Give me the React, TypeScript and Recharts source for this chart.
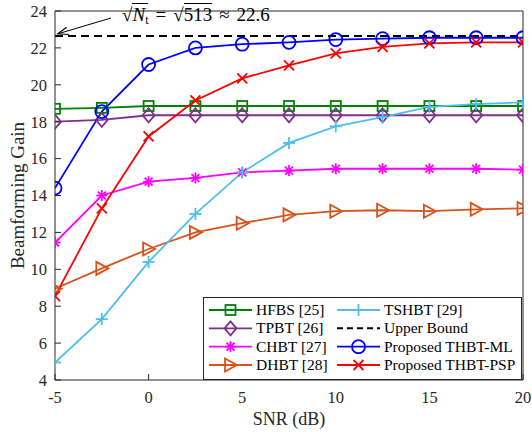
import React from 'react';
import { LineChart, Line, XAxis, YAxis, Legend } from 'recharts';

// SNR grid (dB)
const snr = [-5, -2.5, 0, 2.5, 5, 7.5, 10, 12.5, 15, 17.5, 20];

// beamforming gain per scheme
const hfbs = [18.7, 18.75, 18.85, 18.85, 18.85, 18.85, 18.85, 18.85, 18.85, 18.85, 18.85];
const tpbt = [18.0, 18.1, 18.35, 18.35, 18.35, 18.35, 18.35, 18.35, 18.35, 18.35, 18.35];
const chbt = [11.45, 14.0, 14.75, 14.95, 15.25, 15.35, 15.45, 15.45, 15.45, 15.45, 15.4];
const dhbt = [8.95, 10.05, 11.1, 12.0, 12.5, 12.95, 13.15, 13.2, 13.15, 13.25, 13.3];
const tshbt = [4.95, 7.3, 10.4, 13.0, 15.25, 16.85, 17.75, 18.25, 18.8, 18.95, 19.05];
const thbtMl = [14.4, 18.55, 21.1, 22.0, 22.2, 22.3, 22.45, 22.5, 22.55, 22.55, 22.55];
const thbtPsp = [8.55, 13.3, 17.2, 19.15, 20.35, 21.05, 21.7, 22.05, 22.25, 22.3, 22.3];
const upperBound = 22.65; // sqrt(513)

const xTicks = [-5, 0, 5, 10, 15, 20];
const yTicks = [4, 6, 8, 10, 12, 14, 16, 18, 20, 22, 24];

const data = snr.map((s, i) => ({
  snr: s,
  hfbs: hfbs[i],
  tpbt: tpbt[i],
  chbt: chbt[i],
  dhbt: dhbt[i],
  tshbt: tshbt[i],
  upper: upperBound,
  ml: thbtMl[i],
  psp: thbtPsp[i],
}));

type Shape = 'square' | 'diamond' | 'asterisk' | 'triangle' | 'plus' | 'circle' | 'cross' | 'none';

const series: { key: string; name: string; color: string; shape: Shape; dashed?: boolean }[] = [
  { key: 'hfbs', name: 'HFBS [25]', color: '#008000', shape: 'square' },
  { key: 'tpbt', name: 'TPBT [26]', color: '#7E2F8E', shape: 'diamond' },
  { key: 'chbt', name: 'CHBT [27]', color: '#FF00FF', shape: 'asterisk' },
  { key: 'dhbt', name: 'DHBT [28]', color: '#D95319', shape: 'triangle' },
  { key: 'tshbt', name: 'TSHBT [29]', color: '#4DBEEE', shape: 'plus' },
  { key: 'upper', name: 'Upper Bound', color: '#000000', shape: 'none', dashed: true },
  { key: 'ml', name: 'Proposed THBT-ML', color: '#0000FF', shape: 'circle' },
  { key: 'psp', name: 'Proposed THBT-PSP', color: '#FF0000', shape: 'cross' },
];

const FONT = '"Liberation Serif", "Times New Roman", Times, serif';
const AXIS = '#262626';
const W = 532;
const H = 432;
const PLOT = { left: 55, right: 522, top: 12, bottom: 380 };

const xPix = (v: number) => PLOT.left + ((v + 5) / 25) * (PLOT.right - PLOT.left);
const yPix = (v: number) => PLOT.bottom - ((v - 4) / 20) * (PLOT.bottom - PLOT.top);

function Marker({ shape, cx, cy, color }: { shape: Shape; cx: number; cy: number; color: string }) {
  const sw = 1.8;
  const common = { fill: 'none', stroke: color, strokeWidth: sw };
  switch (shape) {
    case 'square':
      return <rect x={cx - 5} y={cy - 5} width={10} height={10} {...common} />;
    case 'diamond':
      return <polygon points={`${cx},${cy - 7} ${cx + 6},${cy} ${cx},${cy + 7} ${cx - 6},${cy}`} {...common} />;
    case 'asterisk': {
      const r = 5.5;
      const d = r * 0.72;
      return (
        <g {...common}>
          <line x1={cx - r} y1={cy} x2={cx + r} y2={cy} />
          <line x1={cx} y1={cy - r} x2={cx} y2={cy + r} />
          <line x1={cx - d} y1={cy - d} x2={cx + d} y2={cy + d} />
          <line x1={cx - d} y1={cy + d} x2={cx + d} y2={cy - d} />
        </g>
      );
    }
    case 'triangle':
      return <polygon points={`${cx + 6.5},${cy} ${cx - 5.5},${cy - 6.5} ${cx - 5.5},${cy + 6.5}`} {...common} />;
    case 'plus': {
      const r = 6;
      return (
        <g {...common}>
          <line x1={cx - r} y1={cy} x2={cx + r} y2={cy} />
          <line x1={cx} y1={cy - r} x2={cx} y2={cy + r} />
        </g>
      );
    }
    case 'circle':
      return <circle cx={cx} cy={cy} r={6.5} {...common} />;
    case 'cross': {
      const r = 5;
      return (
        <g {...common}>
          <line x1={cx - r} y1={cy - r} x2={cx + r} y2={cy + r} />
          <line x1={cx - r} y1={cy + r} x2={cx + r} y2={cy - r} />
        </g>
      );
    }
    default:
      return null;
  }
}

const renderLegend = () => {
  const rows = [13, 31.3, 49.7, 68];
  return (
    <svg width={320} height={83} style={{ display: 'block', fontFamily: FONT }}>
      <rect x={0.5} y={0.5} width={318} height={82} fill="#fff" stroke={AXIS} strokeWidth={1} />
      {series.map((s, i) => {
        const col = i < 4 ? 0 : 1;
        const y = rows[i % 4];
        const x0 = col === 0 ? 6 : 134;
        const x1 = x0 + 43;
        return (
          <g key={s.key}>
            <line
              x1={x0}
              y1={y}
              x2={x1}
              y2={y}
              stroke={s.color}
              strokeWidth={s.dashed ? 2 : 1.8}
              strokeDasharray={s.dashed ? '6 4' : undefined}
            />
            <Marker shape={s.shape} cx={(x0 + x1) / 2} cy={y} color={s.color} />
            <text x={x1 + 4} y={y + 5} style={{ fontFamily: FONT, fontSize: 15.5 }} fill="#000">
              {s.name}
            </text>
          </g>
        );
      })}
    </svg>
  );
};

export default function App() {
  const tip = { x: xPix(-4.85), y: yPix(upperBound) - 3 };
  const tail = { x: 111, y: 18 };
  const ang = Math.atan2(tail.y - tip.y, tail.x - tip.x);
  const head = (a: number) => ({ x: tip.x + 11 * Math.cos(ang + a), y: tip.y + 11 * Math.sin(ang + a) });
  const h1 = head(0.35);
  const h2 = head(-0.35);
  const tickStyle = { fill: AXIS, fontSize: 16.5, fontFamily: FONT };

  return (
    <div style={{ position: 'absolute', left: 0, top: 0, width: W, height: H, background: '#fff', fontFamily: FONT }}>
      <LineChart
        width={W}
        height={H}
        data={data}
        style={{ fontFamily: FONT }}
        margin={{ top: PLOT.top - 1, right: W - PLOT.right - 1, bottom: 0, left: 0 }}
      >
        <XAxis
          dataKey="snr"
          type="number"
          domain={[-5, 20]}
          ticks={xTicks}
          interval={0}
          allowDataOverflow
          height={H - PLOT.bottom}
          tickSize={-6}
          tickMargin={17}
          axisLine={{ stroke: AXIS }}
          tickLine={{ stroke: AXIS }}
          tick={tickStyle}
          label={{ value: 'SNR (dB)', position: 'insideBottom', offset: 7, fill: AXIS, fontSize: 18, fontFamily: FONT }}
        />
        <XAxis
          xAxisId="top"
          orientation="top"
          dataKey="snr"
          type="number"
          domain={[-5, 20]}
          ticks={xTicks}
          interval={0}
          allowDataOverflow
          height={1}
          mirror
          tickSize={6}
          tick={false}
          axisLine={{ stroke: AXIS }}
          tickLine={{ stroke: AXIS }}
        />
        <YAxis
          type="number"
          domain={[4, 24]}
          ticks={yTicks}
          interval={0}
          allowDataOverflow
          width={PLOT.left}
          tickSize={-6}
          tickMargin={14}
          axisLine={{ stroke: AXIS }}
          tickLine={{ stroke: AXIS }}
          tick={tickStyle}
          label={{
            value: 'Beamforming Gain',
            angle: -90,
            position: 'insideLeft',
            offset: 17,
            fill: AXIS,
            fontSize: 19,
            fontFamily: FONT,
            style: { textAnchor: 'middle', fontFamily: FONT },
          }}
        />
        <YAxis
          yAxisId="right"
          orientation="right"
          type="number"
          domain={[4, 24]}
          ticks={yTicks}
          interval={0}
          allowDataOverflow
          width={1}
          mirror
          tickSize={6}
          tick={false}
          axisLine={{ stroke: AXIS }}
          tickLine={{ stroke: AXIS }}
        />
        {series.map((s) => (
          <Line
            key={s.key}
            dataKey={s.key}
            name={s.name}
            stroke={s.color}
            strokeWidth={s.dashed ? 2 : 1.8}
            strokeDasharray={s.dashed ? '8 5' : undefined}
            type="linear"
            isAnimationActive={false}
            dot={
              s.shape === 'none'
                ? false
                : (p: any) => <Marker key={`${s.key}-${p.index}`} shape={s.shape} cx={p.cx} cy={p.cy} color={s.color} />
            }
            activeDot={false}
          />
        ))}
        <Legend
          layout="horizontal"
          verticalAlign="middle"
          align="center"
          wrapperStyle={{ left: 203, top: 297, width: 320, height: 83 }}
          content={renderLegend}
        />
      </LineChart>

      <svg width={W} height={H} style={{ position: 'absolute', left: 0, top: 0, pointerEvents: 'none' }}>
        <line x1={tail.x} y1={tail.y} x2={tip.x} y2={tip.y} stroke="#000" strokeWidth={1} />
        <polyline points={`${h1.x},${h1.y} ${tip.x},${tip.y} ${h2.x},${h2.y}`} fill="none" stroke="#000" strokeWidth={1.2} />
      </svg>
      <div
        style={{
          position: 'absolute',
          left: 122,
          top: 4,
          fontFamily: FONT,
          fontSize: 19,
          color: '#000',
          whiteSpace: 'nowrap',
          lineHeight: '21px',
        }}
      >
        √<span style={{ borderTop: '1px solid #000' }}>
          <i>N</i>
          <span style={{ fontSize: 12, position: 'relative', top: 3 }}>t</span>
        </span>
        <span style={{ margin: '0 7px' }}>=</span>√<span style={{ borderTop: '1px solid #000' }}>513</span>
        <span style={{ margin: '0 7px' }}>≈</span>22.6
      </div>
    </div>
  );
}
